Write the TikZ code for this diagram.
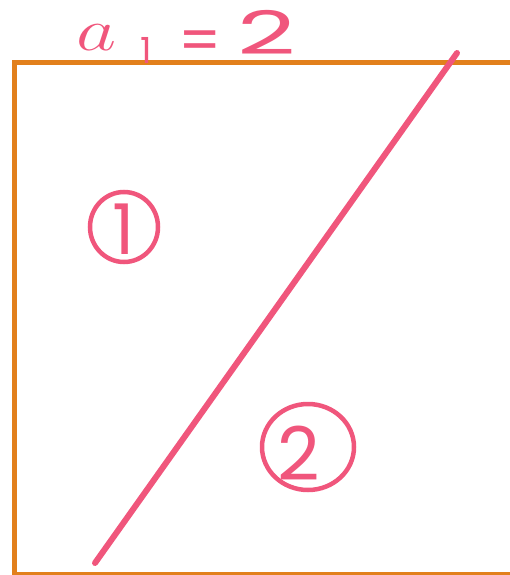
\documentclass[tikz,border=0pt]{standalone}
\usepackage{fix-cm}
\usepackage{fontspec}
\setmainfont{Poppins}
\definecolor{pinkink}{RGB}{240,86,124}
\definecolor{frameorange}{RGB}{226,128,28}
\tikzset{
  ink/.style={draw=pinkink, line width=6pt, line cap=round},
  ring/.style={draw=pinkink, line width=4.5pt},
  frame/.style={draw=frameorange, line width=5pt},
  numtxt/.style={text=pinkink, inner sep=0pt},
  lab/.style={text=pinkink, inner sep=0pt, text height=45pt, text depth=14pt,
    font=\fontsize{60}{60}\selectfont}
}
\begin{document}
\begin{tikzpicture}[x=1pt,y=-1pt]
  \useasboundingbox (0,0) rectangle (510,575);
  \draw[frame] (14.5,63) rectangle (518,574);
  \coordinate (top) at (457,53);
  \coordinate (bot) at (95,563);
  \draw[ink] (top) -- (bot);
  \node[numtxt, font=\fontsize{70}{70}\selectfont] (n1) at (124,229) {1};
  \draw[ring] (n1) ++(0,-2) ellipse [x radius=34pt, y radius=35pt];
  \node[numtxt, font=\fontsize{74}{74}\selectfont] (n2) at (299,453) {2};
  \draw[ring] (n2) ++(9,-6) ellipse [x radius=46pt, y radius=43pt];
  \node[lab, anchor=base west] (t) at (76,51)
    {\rlap{\scalebox{1.3}[1]{\fontsize{60}{60}\selectfont$a$}}\hspace{64pt}%
     \rlap{\raisebox{-13pt}{\fontsize{36}{36}\selectfont 1}}\hspace{38pt}%
     \rlap{\raisebox{-11pt}{=}}\hspace{59pt}%
     \raisebox{-4pt}{\scalebox{1.7}[1]{2}}};
\end{tikzpicture}
\end{document}
